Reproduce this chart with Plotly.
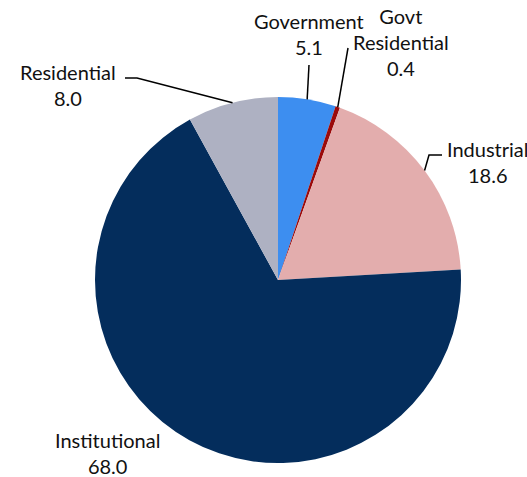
import math
import plotly.graph_objects as go

categories = ["Government", "Govt<br>Residential", "Industrial", "Institutional", "Residential"]
values = [5.1, 0.4, 18.6, 68.0, 8.0]
value_labels = ["5.1", "0.4", "18.6", "68.0", "8.0"]
colors = ["#3D8EF0", "#9B0A0A", "#E3ADAD", "#042D5C", "#AEB1C2"]

W, H = 527, 477
CX, CY, R = 278, 280, 183

# label anchor centres (pixels) and leader elbows
label_pos = [(309, 34), (401, 42), (488, 162), (107, 453), (68, 85)]
leader = [
    [(309, 65)],
    [(348, 48)],
    [(442, 155), (429, 155)],
    None,
    [(125, 78), (137, 78)],
]

def px(x):
    return x / W

def py(y):
    return 1 - y / H

fig = go.Figure(go.Pie(
    labels=categories, values=values, sort=False, direction="clockwise",
    rotation=0, marker=dict(colors=colors, line=dict(width=0)),
    textinfo="none", hoverinfo="label+value", showlegend=False,
    domain=dict(x=[px(CX - R), px(CX + R)], y=[py(CY + R), py(CY - R)]),
))

total = sum(values)
cum = 0
shapes = []
annotations = []
for i, v in enumerate(values):
    mid = (cum + v / 2) / total * 2 * math.pi
    cum += v
    ex = CX + R * math.sin(mid)
    ey = CY - R * math.cos(mid)
    lx, ly = label_pos[i]
    annotations.append(dict(
        x=px(lx), y=py(ly), xref="paper", yref="paper", showarrow=False,
        text=categories[i] + "<br>" + value_labels[i], align="center",
        xanchor="center", yanchor="middle",
        font=dict(family="Lato, Carlito, Calibri, sans-serif", size=20, color="#111111"),
    ))
    if leader[i]:
        pts = leader[i] + [(ex, ey)]
        path = "M " + " L ".join(f"{px(a)} {py(b)}" for a, b in pts)
        shapes.append(dict(type="path", xref="paper", yref="paper", path=path,
                           line=dict(color="black", width=1.5)))

fig.update_layout(
    width=W, height=H, margin=dict(l=0, r=0, t=0, b=0),
    paper_bgcolor="white", plot_bgcolor="white",
    shapes=shapes, annotations=annotations,
)
fig.write_html("out.html")
